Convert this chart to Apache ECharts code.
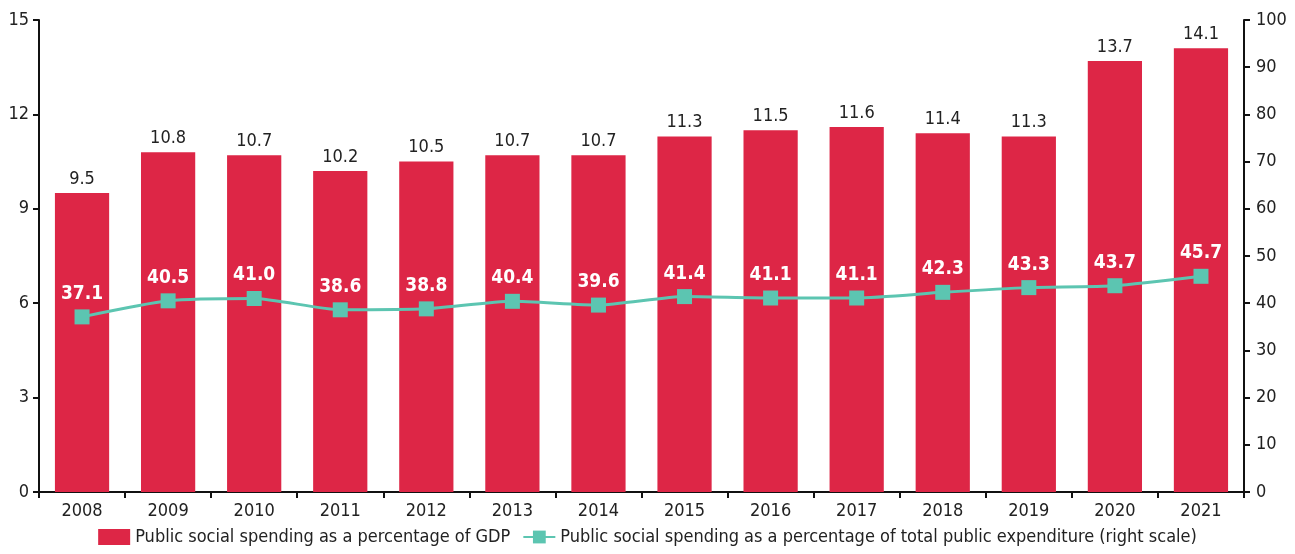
<!DOCTYPE html>
<html>
<head>
<meta charset="utf-8">
<script src="https://cdn.jsdelivr.net/npm/echarts@6/dist/echarts.min.js"></script>
<style>
  html, body { margin: 0; padding: 0; background: #fff; }
  #main { width: 1295px; height: 554px; }
</style>
</head>
<body>
<div id="main"></div>
<script>
var years = ['2008', '2009', '2010', '2011', '2012', '2013', '2014', '2015', '2016', '2017', '2018', '2019', '2020', '2021'];
// % of GDP (left scale)
var gdpShare = [9.5, 10.8, 10.7, 10.2, 10.5, 10.7, 10.7, 11.3, 11.5, 11.6, 11.4, 11.3, 13.7, 14.1];
// % of total public expenditure (right scale)
var expShare = [37.1, 40.5, 41.0, 38.6, 38.8, 40.4, 39.6, 41.4, 41.1, 41.1, 42.3, 43.3, 43.7, 45.7];

var font = '"DejaVu Sans Condensed", "Liberation Sans Narrow", sans-serif';
var axisLine = { show: true, lineStyle: { color: '#111', width: 2 } };
var axisTick = { show: true, length: 6, lineStyle: { color: '#111', width: 2 } };

var myChart = echarts.init(document.getElementById('main'));
var option = {
    animation: false,
    textStyle: { fontFamily: font },
    grid: { left: 39, right: 51, top: 20, bottom: 62 },
    legend: {
        bottom: 3,
        left: 'center',
        itemGap: 12,
        itemWidth: 32,
        itemHeight: 16,
        textStyle: { fontSize: 18, color: '#222', fontFamily: font },
        data: [
            { name: 'Public social spending as a percentage of GDP', icon: 'rect' },
            { name: 'Public social spending as a percentage of total public expenditure (right scale)' }
        ]
    },
    xAxis: {
        type: 'category',
        data: years,
        axisLine: axisLine,
        axisTick: axisTick,
        axisLabel: { fontSize: 18, color: '#222', margin: 10, fontFamily: font }
    },
    yAxis: [
        {
            type: 'value', min: 0, max: 15, interval: 3,
            axisLine: axisLine,
            axisTick: axisTick,
            splitLine: { show: false },
            axisLabel: { fontSize: 18, color: '#222', margin: 10, fontFamily: font }
        },
        {
            type: 'value', min: 0, max: 100, interval: 10,
            axisLine: axisLine,
            axisTick: axisTick,
            splitLine: { show: false },
            axisLabel: { fontSize: 18, color: '#222', margin: 12, fontFamily: font }
        }
    ],
    series: [
        {
            name: 'Public social spending as a percentage of GDP',
            type: 'bar',
            data: gdpShare,
            barWidth: '63%',
            itemStyle: { color: '#dd2646' },
            label: {
                show: true, position: 'top', distance: 5,
                fontSize: 18, color: '#222', fontFamily: font,
                formatter: function (p) { return p.value.toFixed(1); }
            }
        },
        {
            name: 'Public social spending as a percentage of total public expenditure (right scale)',
            type: 'line',
            yAxisIndex: 1,
            data: expShare,
            smooth: 0.2,
            symbol: 'rect',
            symbolSize: 15,
            itemStyle: { color: '#5cc5b1' },
            lineStyle: { color: '#5cc5b1', width: 3 },
            label: {
                show: true, position: 'top', distance: 6,
                fontSize: 19, fontWeight: 'bold', color: '#fff', fontFamily: font,
                formatter: function (p) { return p.value.toFixed(1); }
            },
            z: 5
        }
    ]
};
myChart.setOption(option);
</script>
</body>
</html>
